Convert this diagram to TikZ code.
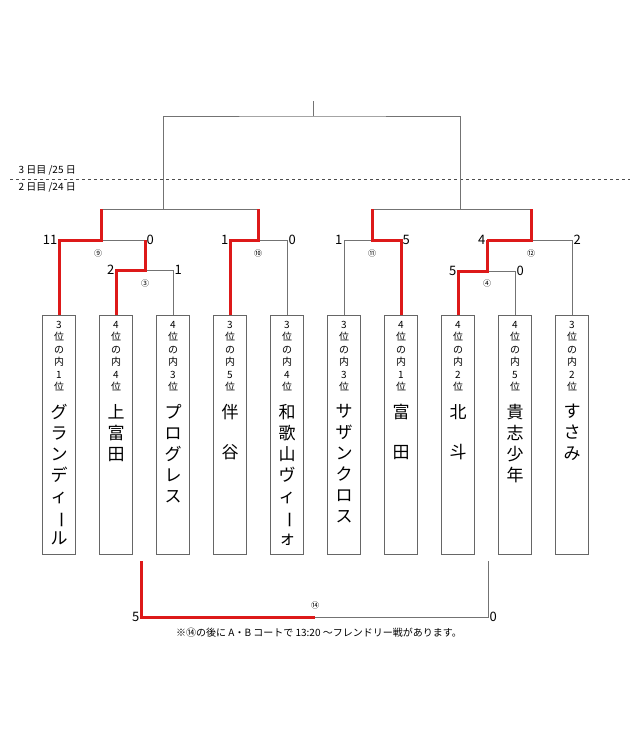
\documentclass[tikz,border=0pt]{standalone}
\usepackage{fontspec}
\newfontfamily\cjk{Noto Sans CJK JP}
\usetikzlibrary{positioning}
\newcommand{\longbar}{\rotatebox[origin=c]{-90}{ー}}
\begin{document}
\begin{tikzpicture}
  [x=1pt,y=-1pt,
  team/.style={rectangle,draw=black!60,thick,minimum width=33pt,minimum height=239pt,anchor=north,inner sep=0pt},
  ranktext/.style={font=\cjk\fontsize{10}{12.5}\selectfont,align=center,anchor=north,inner sep=0pt},
  teamtext/.style={font=\cjk\fontsize{17}{21}\selectfont,align=center,anchor=north,inner sep=0pt},
  score/.style={font=\cjk\fontsize{13}{13}\selectfont,inner sep=1.5pt},
  game/.style={font=\cjk\fontsize{8}{8}\selectfont,inner sep=0pt},
  lose/.style={draw=black!55,thick},
  win/.style={draw=red!85!black!90,line width=3pt}
  ]
  \useasboundingbox (0,0) rectangle (640,740);
  % teams
  \foreach \i/\x/\r/\n in {
    1/59/3\\位\\の\\内\\1\\位/グ\\ラ\\ン\\デ\\ィ\\\longbar\\ル,
    2/116/4\\位\\の\\内\\4\\位/上\\富\\田,
    3/173/4\\位\\の\\内\\3\\位/プ\\ロ\\グ\\レ\\ス,
    4/230/3\\位\\の\\内\\5\\位/伴\\[19pt]谷,
    5/287/3\\位\\の\\内\\4\\位/和\\歌\\山\\ヴ\\ィ\\\longbar\\ォ,
    6/344/3\\位\\の\\内\\3\\位/サ\\ザ\\ン\\ク\\ロ\\ス,
    7/401/4\\位\\の\\内\\1\\位/富\\[19pt]田,
    8/458/4\\位\\の\\内\\2\\位/北\\[19pt]斗,
    9/515/4\\位\\の\\内\\5\\位/貴\\志\\少\\年,
    10/572/3\\位\\の\\内\\2\\位/す\\さ\\み}
  {
    \node[team] (b\i) at (\x,315) {};
    \node[ranktext] (r\i) at (\x,321) {\r};
    \node[teamtext] (n\i) at (\x,404) {\n};
  }
  % day labels
  \node[font=\cjk\fontsize{10}{10}\selectfont,anchor=west] (d3) at (15,170) {3 日目 /25 日};
  \node[font=\cjk\fontsize{10}{10}\selectfont,anchor=west] (d2) at (15,187) {2 日目 /24 日};
  \draw[dashed,black!70] (10,179) coordinate (dl) -- (630,179) coordinate (dr);
  % junctions
  \coordinate (c3) at (145,270);
  \coordinate (c9) at (101,240);
  \coordinate (c10) at (258,240);
  \coordinate (c11) at (372,240);
  \coordinate (c4) at (487,271);
  \coordinate (c12) at (531,240);
  \coordinate (tl) at (163,209);
  \coordinate (tr) at (460,209);
  \coordinate (top) at (313,116);
  \coordinate (final) at (313,101);
  % losing lines
  \draw[lose] (b3.north) |- (c3);
  \draw[lose] (c3 |- c9) -- (c9);
  \draw[lose] (b5.north) |- (c10);
  \draw[lose] (b6.north) |- (c11);
  \draw[lose] (b9.north) |- (c4);
  \draw[lose] (b10.north) |- (c12);
  \draw[lose] (c9 |- tl) -- (c10 |- tl);
  \draw[lose] (c11 |- tr) -- (c12 |- tr);
  \draw[lose] (tl) |- (top) -| (tr);
  \draw[lose] (top) -- (final);
  % winning lines
  \draw[win] (b2.north) |- (c3) -- (c3 |- c9);
  \draw[win] (b1.north) |- (c9) -- (c9 |- tl);
  \draw[win] (b4.north) |- (c10) -- (c10 |- tl);
  \draw[win] (b7.north) |- (c11) -- (c11 |- tr);
  \draw[win] (b8.north) |- (c4) -- (c4 |- c12);
  \draw[win] (c4 |- c12) -- (c12) -- (c12 |- tr);
  % scores
  \node[score,left] (s2) at (b2.north |- c3) {2};
  \node[score,right] (s3) at (b3.north |- c3) {1};
  \node[score,left] (s1) at (b1.north |- c9) {11};
  \node[score,right] (s9) at (c3 |- c9) {0};
  \node[score,left] (s4) at (b4.north |- c10) {1};
  \node[score,right] (s5) at (b5.north |- c10) {0};
  \node[score,left] (s6) at (b6.north |- c11) {1};
  \node[score,right] (s7) at (b7.north |- c11) {5};
  \node[score,left] (s8) at (b8.north |- c4) {5};
  \node[score,right] (s10) at (b9.north |- c4) {0};
  \node[score,left] (s12) at (c4 |- c12) {4};
  \node[score,right] (s13) at (b10.north |- c12) {2};
  % game numbers
  \node[game] (g3) at (145,283) {③};
  \node[game] (g9) at (98,253) {⑨};
  \node[game] (g10) at (258,253) {⑩};
  \node[game] (g11) at (372,253) {⑪};
  \node[game] (g4) at (487,283) {④};
  \node[game] (g12) at (531,253) {⑫};
  % friendly match
  \coordinate (fl) at (141,561);
  \coordinate (fr) at (488,561);
  \coordinate (f14) at (315,617);
  \draw[lose] (fr) |- (f14);
  \draw[win] (fl) |- (f14);
  \node[score,left] (sl) at (fl |- f14) {5};
  \node[score,right] (sr) at (fr |- f14) {0};
  \node[game] (g14) at (315,605) {⑭};
  \node[font=\cjk\fontsize{10}{10}\selectfont] (note) at (319,633) {※⑭の後に A・B コートで 13:20 〜フレンドリー戦があります。};
\end{tikzpicture}
\end{document}
